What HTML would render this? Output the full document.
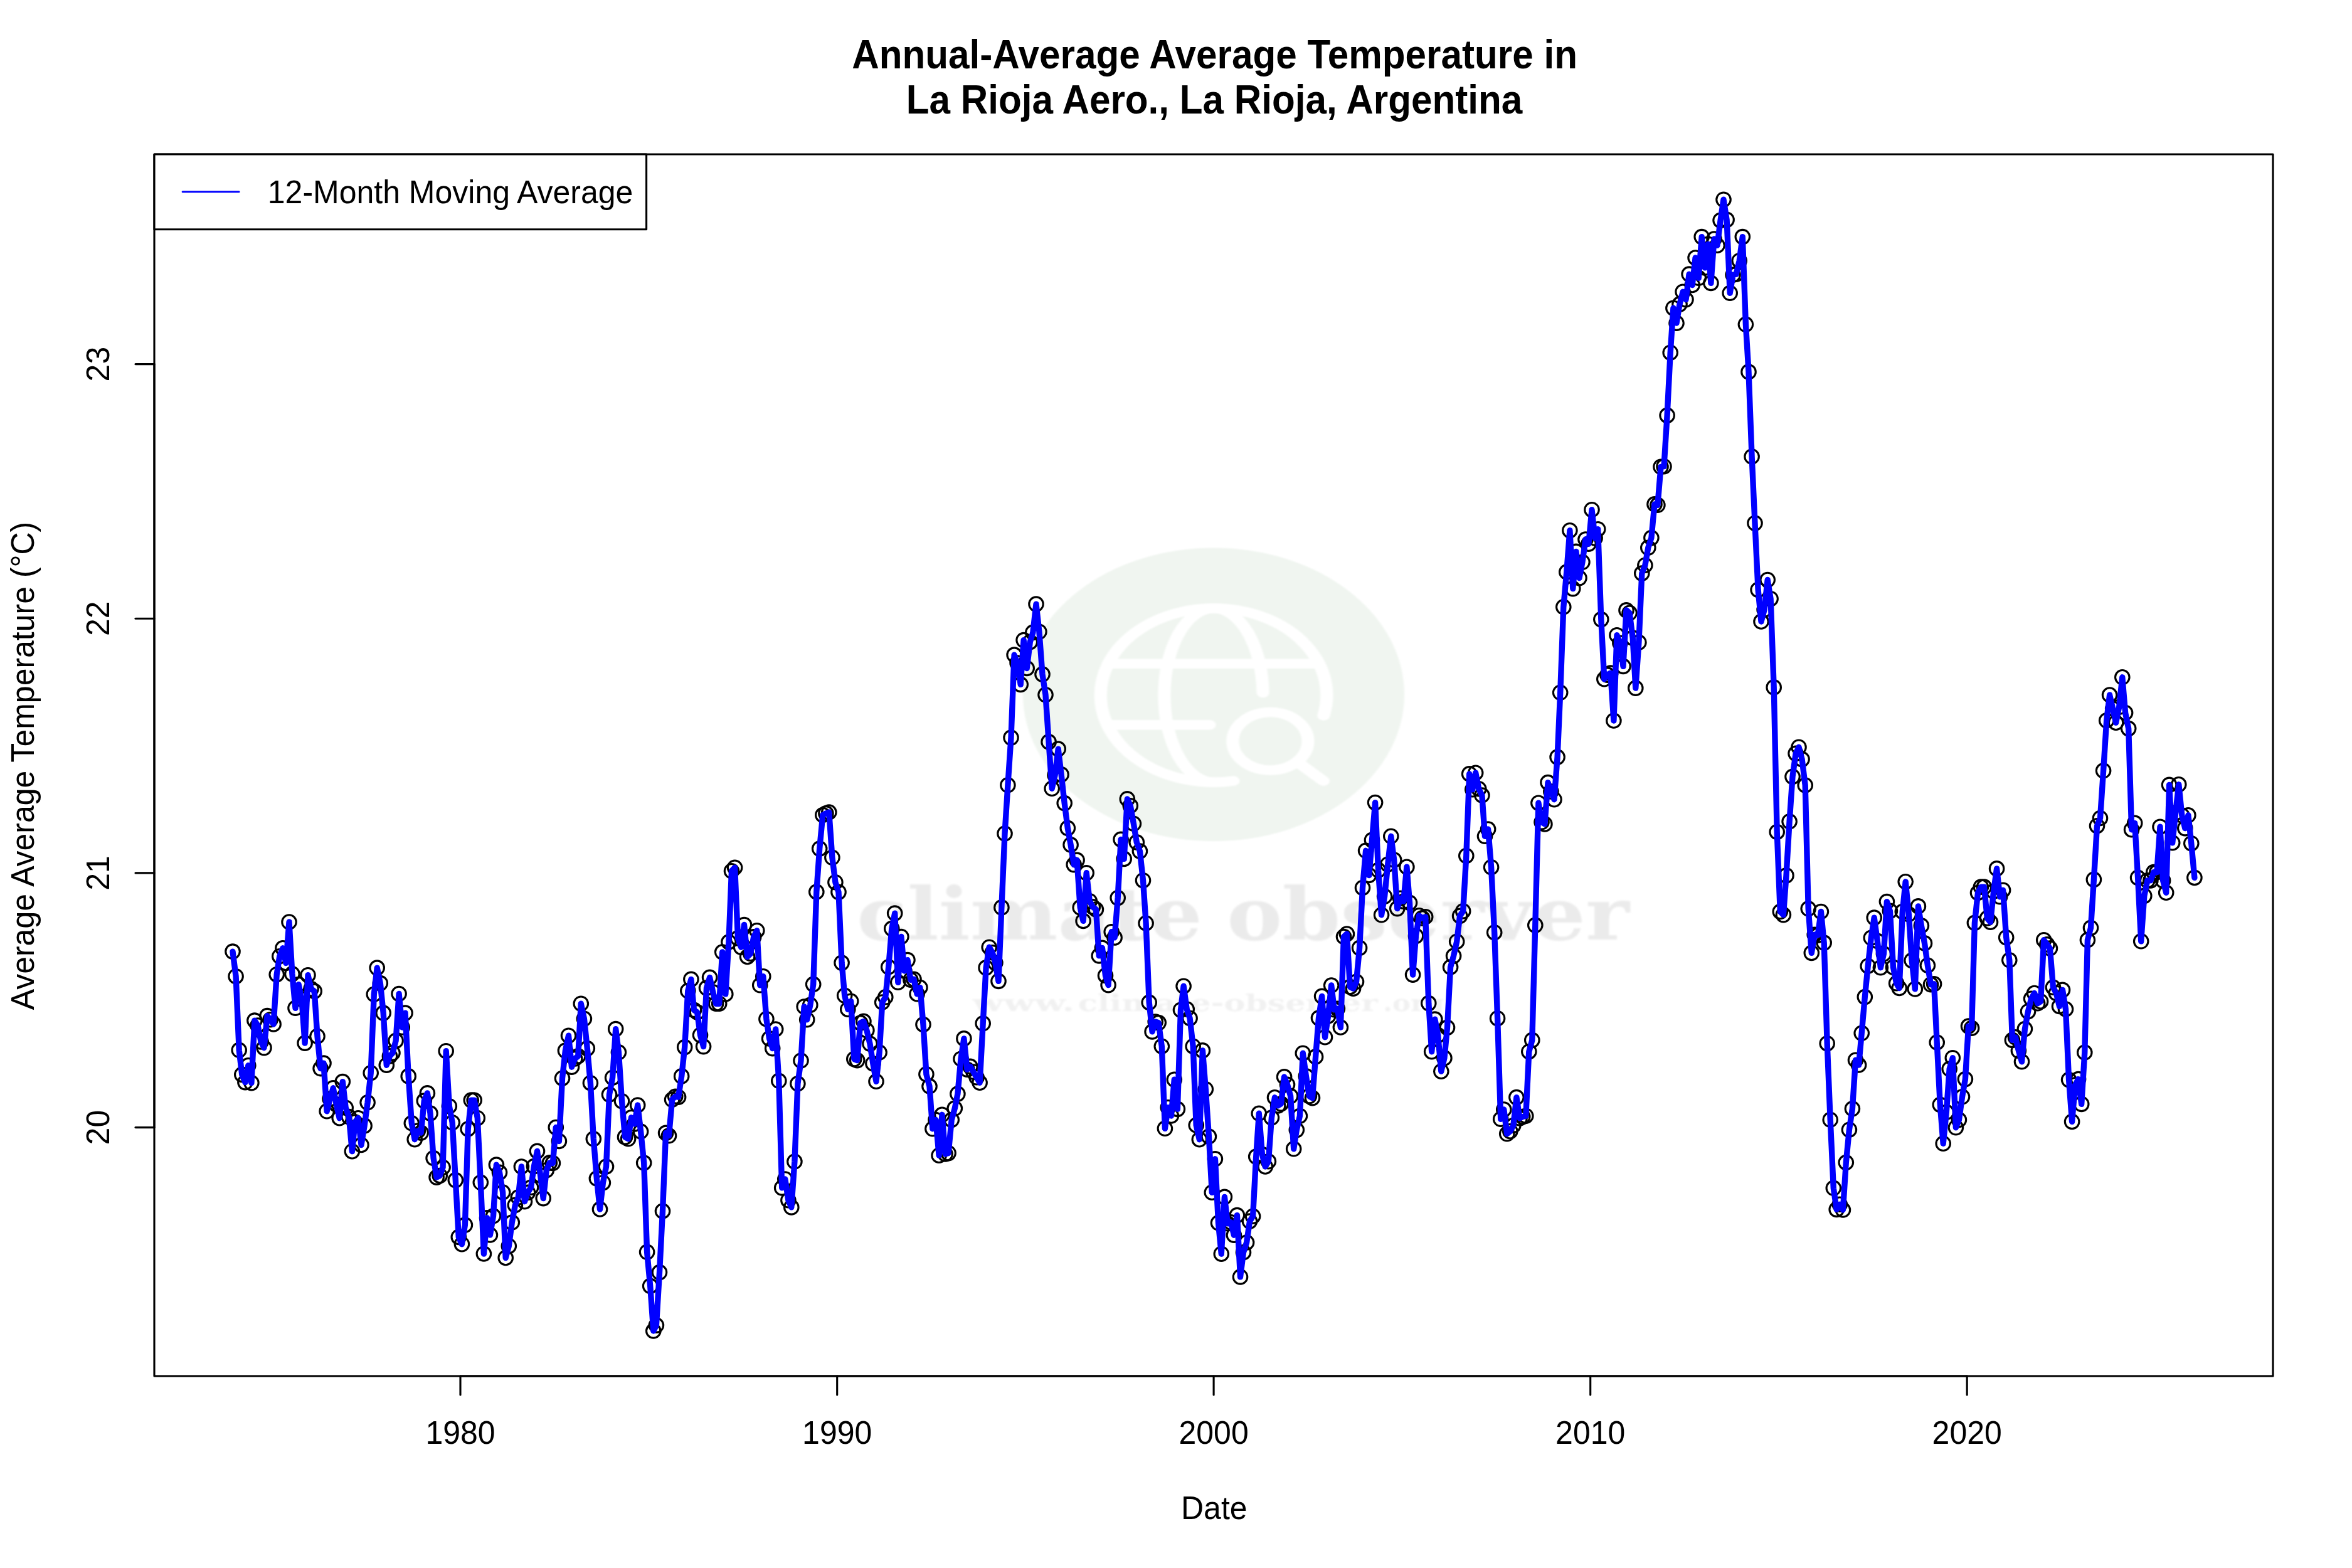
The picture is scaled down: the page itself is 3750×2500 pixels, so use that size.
<!DOCTYPE html>
<html lang="en"><head><meta charset="utf-8"><title>Annual-Average Average Temperature in La Rioja Aero., La Rioja, Argentina</title>
<style>html,body{margin:0;padding:0;background:#fff}body{width:3750px;height:2500px;overflow:hidden}svg{display:block}text{font-family:"Liberation Sans",sans-serif;fill:#000}.wm{font-family:"DejaVu Serif","Liberation Serif",serif;font-weight:bold}</style></head><body>
<svg width="3750" height="2500" viewBox="0 0 3750 2500">
<rect width="3750" height="2500" fill="#fff"/>
<defs><filter id="b1" x="-5%" y="-5%" width="110%" height="110%"><feGaussianBlur stdDeviation="1.1"/></filter><filter id="b2" x="-5%" y="-20%" width="110%" height="140%"><feGaussianBlur stdDeviation="1.6"/></filter></defs>
<g transform="translate(1935,1107.3) scale(1.30,1)" filter="url(#b1)">
<circle r="233.9" fill="#f0f5f0"/>
<g fill="none" stroke="#fff" stroke-width="15.5" stroke-linecap="round" stroke-linejoin="round">
<path d="M134.9,33.6 A138.7,138.7 0 1 0 24.1,137.8"/>
<path d="M-129.3,-49.1 H129.3"/>
<path d="M-130.4,48.4 H-5"/>
<path d="M0,139.9 A60.5,138.7 0 0 1 0,-137.5 A60.5,138.7 0 0 1 60.45,-2.8"/>
<circle cx="69.5" cy="74.5" r="46.2"/>
<path d="M102.2,107.2 L134.6,137.9"/>
</g></g>
<g filter="url(#b2)" style="fill:#ebebeb">
<text class="wm" x="1366" y="1497.5" font-size="116" textLength="551" lengthAdjust="spacingAndGlyphs" style="fill:#ebebeb">climate</text>
<text class="wm" x="1956" y="1497.5" font-size="116" textLength="642" lengthAdjust="spacingAndGlyphs" style="fill:#ebebeb">observer</text>
</g><g filter="url(#b2)">
<text class="wm" x="1550.4" y="1611.7" font-size="37" textLength="163" lengthAdjust="spacingAndGlyphs" style="fill:#f1f1f1">www.</text>
<text class="wm" x="1718.8" y="1611.7" font-size="37" textLength="478" lengthAdjust="spacingAndGlyphs" style="fill:#f1f1f1">climate-observer</text>
<text class="wm" x="2205" y="1611.7" font-size="37" textLength="97" lengthAdjust="spacingAndGlyphs" style="fill:#f1f1f1">.org</text>
</g>
<g fill="none" stroke="#000" stroke-width="3.125">
<circle cx="371.0" cy="1517.1" r="11.25"/>
<circle cx="376.1" cy="1556.7" r="11.25"/>
<circle cx="381.2" cy="1674.3" r="11.25"/>
<circle cx="385.8" cy="1713.4" r="11.25"/>
<circle cx="390.9" cy="1725.6" r="11.25"/>
<circle cx="395.8" cy="1698.8" r="11.25"/>
<circle cx="400.9" cy="1726.6" r="11.25"/>
<circle cx="405.9" cy="1627.1" r="11.25"/>
<circle cx="411.0" cy="1635.0" r="11.25"/>
<circle cx="416.1" cy="1661.0" r="11.25"/>
<circle cx="421.0" cy="1670.6" r="11.25"/>
<circle cx="426.1" cy="1619.6" r="11.25"/>
<circle cx="431.0" cy="1625.7" r="11.25"/>
<circle cx="436.1" cy="1632.9" r="11.25"/>
<circle cx="441.2" cy="1553.7" r="11.25"/>
<circle cx="445.8" cy="1524.7" r="11.25"/>
<circle cx="450.9" cy="1511.8" r="11.25"/>
<circle cx="455.9" cy="1535.5" r="11.25"/>
<circle cx="461.0" cy="1470.0" r="11.25"/>
<circle cx="465.9" cy="1552.9" r="11.25"/>
<circle cx="471.0" cy="1607.3" r="11.25"/>
<circle cx="476.1" cy="1569.6" r="11.25"/>
<circle cx="481.0" cy="1593.0" r="11.25"/>
<circle cx="486.1" cy="1663.1" r="11.25"/>
<circle cx="491.0" cy="1554.7" r="11.25"/>
<circle cx="496.1" cy="1576.5" r="11.25"/>
<circle cx="501.2" cy="1580.4" r="11.25"/>
<circle cx="506.0" cy="1652.2" r="11.25"/>
<circle cx="511.1" cy="1703.6" r="11.25"/>
<circle cx="516.0" cy="1695.1" r="11.25"/>
<circle cx="521.1" cy="1771.8" r="11.25"/>
<circle cx="526.1" cy="1752.0" r="11.25"/>
<circle cx="531.2" cy="1734.8" r="11.25"/>
<circle cx="536.3" cy="1761.0" r="11.25"/>
<circle cx="541.2" cy="1782.7" r="11.25"/>
<circle cx="546.3" cy="1724.6" r="11.25"/>
<circle cx="551.2" cy="1766.3" r="11.25"/>
<circle cx="556.3" cy="1780.6" r="11.25"/>
<circle cx="561.4" cy="1835.7" r="11.25"/>
<circle cx="566.0" cy="1789.0" r="11.25"/>
<circle cx="571.1" cy="1782.7" r="11.25"/>
<circle cx="576.0" cy="1825.5" r="11.25"/>
<circle cx="581.1" cy="1794.9" r="11.25"/>
<circle cx="586.1" cy="1757.8" r="11.25"/>
<circle cx="591.2" cy="1710.7" r="11.25"/>
<circle cx="596.3" cy="1585.3" r="11.25"/>
<circle cx="601.2" cy="1543.1" r="11.25"/>
<circle cx="606.3" cy="1567.6" r="11.25"/>
<circle cx="611.2" cy="1615.1" r="11.25"/>
<circle cx="616.3" cy="1698.2" r="11.25"/>
<circle cx="621.4" cy="1683.9" r="11.25"/>
<circle cx="626.0" cy="1678.8" r="11.25"/>
<circle cx="631.1" cy="1659.4" r="11.25"/>
<circle cx="636.1" cy="1584.5" r="11.25"/>
<circle cx="641.2" cy="1638.0" r="11.25"/>
<circle cx="646.1" cy="1615.1" r="11.25"/>
<circle cx="651.2" cy="1715.9" r="11.25"/>
<circle cx="656.3" cy="1790.8" r="11.25"/>
<circle cx="661.2" cy="1816.7" r="11.25"/>
<circle cx="666.3" cy="1803.0" r="11.25"/>
<circle cx="671.2" cy="1806.1" r="11.25"/>
<circle cx="676.3" cy="1755.1" r="11.25"/>
<circle cx="681.4" cy="1742.9" r="11.25"/>
<circle cx="686.0" cy="1775.1" r="11.25"/>
<circle cx="691.1" cy="1846.5" r="11.25"/>
<circle cx="696.1" cy="1877.1" r="11.25"/>
<circle cx="701.2" cy="1874.5" r="11.25"/>
<circle cx="706.1" cy="1861.2" r="11.25"/>
<circle cx="711.2" cy="1675.7" r="11.25"/>
<circle cx="716.3" cy="1763.7" r="11.25"/>
<circle cx="721.2" cy="1789.8" r="11.25"/>
<circle cx="726.3" cy="1881.6" r="11.25"/>
<circle cx="731.3" cy="1972.4" r="11.25"/>
<circle cx="736.4" cy="1983.7" r="11.25"/>
<circle cx="741.4" cy="1953.1" r="11.25"/>
<circle cx="746.2" cy="1800.0" r="11.25"/>
<circle cx="751.3" cy="1754.1" r="11.25"/>
<circle cx="756.2" cy="1754.1" r="11.25"/>
<circle cx="761.3" cy="1782.7" r="11.25"/>
<circle cx="766.3" cy="1885.3" r="11.25"/>
<circle cx="771.4" cy="1999.0" r="11.25"/>
<circle cx="776.5" cy="1941.8" r="11.25"/>
<circle cx="781.4" cy="1969.0" r="11.25"/>
<circle cx="786.5" cy="1938.8" r="11.25"/>
<circle cx="791.4" cy="1857.1" r="11.25"/>
<circle cx="796.5" cy="1869.4" r="11.25"/>
<circle cx="801.6" cy="1901.0" r="11.25"/>
<circle cx="806.2" cy="2005.5" r="11.25"/>
<circle cx="811.3" cy="1986.7" r="11.25"/>
<circle cx="816.3" cy="1949.0" r="11.25"/>
<circle cx="821.4" cy="1921.4" r="11.25"/>
<circle cx="826.3" cy="1909.0" r="11.25"/>
<circle cx="831.4" cy="1860.0" r="11.25"/>
<circle cx="836.5" cy="1915.7" r="11.25"/>
<circle cx="841.4" cy="1901.4" r="11.25"/>
<circle cx="846.5" cy="1893.3" r="11.25"/>
<circle cx="851.4" cy="1859.6" r="11.25"/>
<circle cx="856.5" cy="1835.4" r="11.25"/>
<circle cx="861.6" cy="1873.9" r="11.25"/>
<circle cx="866.2" cy="1910.6" r="11.25"/>
<circle cx="871.3" cy="1865.7" r="11.25"/>
<circle cx="876.3" cy="1853.9" r="11.25"/>
<circle cx="881.4" cy="1854.5" r="11.25"/>
<circle cx="886.3" cy="1797.5" r="11.25"/>
<circle cx="891.4" cy="1819.5" r="11.25"/>
<circle cx="896.5" cy="1719.2" r="11.25"/>
<circle cx="901.4" cy="1675.1" r="11.25"/>
<circle cx="906.5" cy="1651.2" r="11.25"/>
<circle cx="911.5" cy="1701.2" r="11.25"/>
<circle cx="916.6" cy="1688.0" r="11.25"/>
<circle cx="921.7" cy="1683.9" r="11.25"/>
<circle cx="926.3" cy="1600.2" r="11.25"/>
<circle cx="931.4" cy="1624.3" r="11.25"/>
<circle cx="936.3" cy="1671.6" r="11.25"/>
<circle cx="941.4" cy="1726.7" r="11.25"/>
<circle cx="946.3" cy="1815.8" r="11.25"/>
<circle cx="951.4" cy="1879.0" r="11.25"/>
<circle cx="956.5" cy="1928.0" r="11.25"/>
<circle cx="961.4" cy="1885.7" r="11.25"/>
<circle cx="966.5" cy="1860.0" r="11.25"/>
<circle cx="971.5" cy="1745.1" r="11.25"/>
<circle cx="976.6" cy="1718.2" r="11.25"/>
<circle cx="981.7" cy="1640.6" r="11.25"/>
<circle cx="986.4" cy="1677.8" r="11.25"/>
<circle cx="991.5" cy="1755.7" r="11.25"/>
<circle cx="996.5" cy="1812.9" r="11.25"/>
<circle cx="1001.6" cy="1815.8" r="11.25"/>
<circle cx="1006.5" cy="1781.8" r="11.25"/>
<circle cx="1011.6" cy="1792.0" r="11.25"/>
<circle cx="1016.7" cy="1762.0" r="11.25"/>
<circle cx="1021.6" cy="1804.0" r="11.25"/>
<circle cx="1026.7" cy="1854.0" r="11.25"/>
<circle cx="1031.6" cy="1996.3" r="11.25"/>
<circle cx="1036.7" cy="2050.4" r="11.25"/>
<circle cx="1041.8" cy="2122.0" r="11.25"/>
<circle cx="1046.4" cy="2113.1" r="11.25"/>
<circle cx="1051.5" cy="2028.6" r="11.25"/>
<circle cx="1056.5" cy="1931.0" r="11.25"/>
<circle cx="1061.6" cy="1806.4" r="11.25"/>
<circle cx="1066.5" cy="1810.8" r="11.25"/>
<circle cx="1071.6" cy="1753.3" r="11.25"/>
<circle cx="1076.7" cy="1748.2" r="11.25"/>
<circle cx="1081.6" cy="1749.2" r="11.25"/>
<circle cx="1086.7" cy="1715.9" r="11.25"/>
<circle cx="1091.7" cy="1669.6" r="11.25"/>
<circle cx="1096.8" cy="1579.8" r="11.25"/>
<circle cx="1101.9" cy="1561.4" r="11.25"/>
<circle cx="1106.5" cy="1610.4" r="11.25"/>
<circle cx="1111.6" cy="1613.9" r="11.25"/>
<circle cx="1116.5" cy="1650.2" r="11.25"/>
<circle cx="1121.6" cy="1668.6" r="11.25"/>
<circle cx="1126.5" cy="1575.1" r="11.25"/>
<circle cx="1131.6" cy="1558.4" r="11.25"/>
<circle cx="1136.7" cy="1581.8" r="11.25"/>
<circle cx="1141.6" cy="1600.2" r="11.25"/>
<circle cx="1146.7" cy="1600.2" r="11.25"/>
<circle cx="1151.7" cy="1518.0" r="11.25"/>
<circle cx="1156.8" cy="1584.9" r="11.25"/>
<circle cx="1161.9" cy="1502.0" r="11.25"/>
<circle cx="1166.5" cy="1388.8" r="11.25"/>
<circle cx="1171.6" cy="1383.3" r="11.25"/>
<circle cx="1176.5" cy="1495.9" r="11.25"/>
<circle cx="1181.6" cy="1510.2" r="11.25"/>
<circle cx="1186.5" cy="1474.5" r="11.25"/>
<circle cx="1191.6" cy="1525.5" r="11.25"/>
<circle cx="1196.7" cy="1520.4" r="11.25"/>
<circle cx="1201.7" cy="1493.9" r="11.25"/>
<circle cx="1206.8" cy="1483.7" r="11.25"/>
<circle cx="1211.7" cy="1570.8" r="11.25"/>
<circle cx="1216.8" cy="1556.7" r="11.25"/>
<circle cx="1221.9" cy="1624.7" r="11.25"/>
<circle cx="1226.6" cy="1655.9" r="11.25"/>
<circle cx="1231.7" cy="1671.6" r="11.25"/>
<circle cx="1236.7" cy="1641.0" r="11.25"/>
<circle cx="1241.8" cy="1723.3" r="11.25"/>
<circle cx="1246.7" cy="1893.9" r="11.25"/>
<circle cx="1251.8" cy="1880.0" r="11.25"/>
<circle cx="1256.9" cy="1913.7" r="11.25"/>
<circle cx="1261.8" cy="1924.9" r="11.25"/>
<circle cx="1266.9" cy="1852.0" r="11.25"/>
<circle cx="1271.9" cy="1727.8" r="11.25"/>
<circle cx="1277.0" cy="1691.0" r="11.25"/>
<circle cx="1282.1" cy="1605.0" r="11.25"/>
<circle cx="1286.7" cy="1625.7" r="11.25"/>
<circle cx="1291.8" cy="1602.4" r="11.25"/>
<circle cx="1296.7" cy="1569.4" r="11.25"/>
<circle cx="1301.8" cy="1422.0" r="11.25"/>
<circle cx="1306.7" cy="1353.1" r="11.25"/>
<circle cx="1311.8" cy="1299.5" r="11.25"/>
<circle cx="1316.9" cy="1296.9" r="11.25"/>
<circle cx="1321.8" cy="1295.0" r="11.25"/>
<circle cx="1326.9" cy="1367.3" r="11.25"/>
<circle cx="1331.9" cy="1406.7" r="11.25"/>
<circle cx="1337.0" cy="1422.4" r="11.25"/>
<circle cx="1342.1" cy="1535.1" r="11.25"/>
<circle cx="1346.7" cy="1587.3" r="11.25"/>
<circle cx="1351.8" cy="1609.2" r="11.25"/>
<circle cx="1356.7" cy="1596.3" r="11.25"/>
<circle cx="1361.8" cy="1688.6" r="11.25"/>
<circle cx="1366.7" cy="1690.6" r="11.25"/>
<circle cx="1371.8" cy="1631.0" r="11.25"/>
<circle cx="1376.9" cy="1628.4" r="11.25"/>
<circle cx="1381.9" cy="1642.7" r="11.25"/>
<circle cx="1387.0" cy="1664.1" r="11.25"/>
<circle cx="1391.9" cy="1695.7" r="11.25"/>
<circle cx="1397.0" cy="1724.3" r="11.25"/>
<circle cx="1402.1" cy="1678.0" r="11.25"/>
<circle cx="1406.7" cy="1598.0" r="11.25"/>
<circle cx="1411.8" cy="1589.8" r="11.25"/>
<circle cx="1416.7" cy="1541.8" r="11.25"/>
<circle cx="1421.8" cy="1480.6" r="11.25"/>
<circle cx="1426.7" cy="1456.1" r="11.25"/>
<circle cx="1431.8" cy="1566.3" r="11.25"/>
<circle cx="1436.9" cy="1493.5" r="11.25"/>
<circle cx="1441.9" cy="1548.0" r="11.25"/>
<circle cx="1447.0" cy="1530.6" r="11.25"/>
<circle cx="1451.9" cy="1562.2" r="11.25"/>
<circle cx="1457.0" cy="1561.2" r="11.25"/>
<circle cx="1462.1" cy="1584.7" r="11.25"/>
<circle cx="1466.9" cy="1574.5" r="11.25"/>
<circle cx="1472.0" cy="1633.5" r="11.25"/>
<circle cx="1476.9" cy="1712.7" r="11.25"/>
<circle cx="1482.0" cy="1732.0" r="11.25"/>
<circle cx="1486.9" cy="1799.8" r="11.25"/>
<circle cx="1492.0" cy="1785.5" r="11.25"/>
<circle cx="1497.1" cy="1842.2" r="11.25"/>
<circle cx="1502.0" cy="1777.3" r="11.25"/>
<circle cx="1507.1" cy="1840.0" r="11.25"/>
<circle cx="1512.1" cy="1838.6" r="11.25"/>
<circle cx="1517.2" cy="1785.5" r="11.25"/>
<circle cx="1522.3" cy="1767.1" r="11.25"/>
<circle cx="1526.9" cy="1744.1" r="11.25"/>
<circle cx="1532.0" cy="1688.2" r="11.25"/>
<circle cx="1536.9" cy="1655.9" r="11.25"/>
<circle cx="1542.0" cy="1705.3" r="11.25"/>
<circle cx="1546.9" cy="1700.4" r="11.25"/>
<circle cx="1552.0" cy="1709.0" r="11.25"/>
<circle cx="1557.1" cy="1717.8" r="11.25"/>
<circle cx="1562.1" cy="1726.3" r="11.25"/>
<circle cx="1567.2" cy="1631.8" r="11.25"/>
<circle cx="1572.1" cy="1542.9" r="11.25"/>
<circle cx="1577.2" cy="1510.2" r="11.25"/>
<circle cx="1582.3" cy="1518.8" r="11.25"/>
<circle cx="1586.9" cy="1535.1" r="11.25"/>
<circle cx="1592.0" cy="1564.4" r="11.25"/>
<circle cx="1596.9" cy="1446.9" r="11.25"/>
<circle cx="1602.0" cy="1329.0" r="11.25"/>
<circle cx="1606.9" cy="1251.8" r="11.25"/>
<circle cx="1612.0" cy="1176.1" r="11.25"/>
<circle cx="1617.1" cy="1044.1" r="11.25"/>
<circle cx="1622.1" cy="1057.0" r="11.25"/>
<circle cx="1627.2" cy="1091.4" r="11.25"/>
<circle cx="1632.1" cy="1020.6" r="11.25"/>
<circle cx="1637.2" cy="1065.5" r="11.25"/>
<circle cx="1642.3" cy="1023.7" r="11.25"/>
<circle cx="1646.9" cy="1008.4" r="11.25"/>
<circle cx="1652.0" cy="963.1" r="11.25"/>
<circle cx="1656.9" cy="1007.3" r="11.25"/>
<circle cx="1662.0" cy="1075.1" r="11.25"/>
<circle cx="1667.0" cy="1107.8" r="11.25"/>
<circle cx="1672.1" cy="1182.9" r="11.25"/>
<circle cx="1677.2" cy="1257.3" r="11.25"/>
<circle cx="1682.1" cy="1235.9" r="11.25"/>
<circle cx="1687.2" cy="1194.1" r="11.25"/>
<circle cx="1692.1" cy="1234.9" r="11.25"/>
<circle cx="1697.2" cy="1280.6" r="11.25"/>
<circle cx="1702.3" cy="1320.4" r="11.25"/>
<circle cx="1707.1" cy="1346.9" r="11.25"/>
<circle cx="1712.2" cy="1378.6" r="11.25"/>
<circle cx="1717.1" cy="1371.4" r="11.25"/>
<circle cx="1722.2" cy="1446.9" r="11.25"/>
<circle cx="1727.1" cy="1468.4" r="11.25"/>
<circle cx="1732.2" cy="1391.8" r="11.25"/>
<circle cx="1737.3" cy="1436.7" r="11.25"/>
<circle cx="1742.3" cy="1445.9" r="11.25"/>
<circle cx="1747.4" cy="1450.0" r="11.25"/>
<circle cx="1752.3" cy="1523.9" r="11.25"/>
<circle cx="1757.4" cy="1511.4" r="11.25"/>
<circle cx="1762.5" cy="1555.5" r="11.25"/>
<circle cx="1767.1" cy="1570.6" r="11.25"/>
<circle cx="1772.2" cy="1485.7" r="11.25"/>
<circle cx="1777.1" cy="1494.9" r="11.25"/>
<circle cx="1782.2" cy="1431.6" r="11.25"/>
<circle cx="1787.1" cy="1338.4" r="11.25"/>
<circle cx="1792.2" cy="1369.4" r="11.25"/>
<circle cx="1797.3" cy="1273.9" r="11.25"/>
<circle cx="1802.3" cy="1284.7" r="11.25"/>
<circle cx="1807.4" cy="1313.3" r="11.25"/>
<circle cx="1812.3" cy="1342.9" r="11.25"/>
<circle cx="1817.4" cy="1357.1" r="11.25"/>
<circle cx="1822.5" cy="1403.7" r="11.25"/>
<circle cx="1827.1" cy="1472.0" r="11.25"/>
<circle cx="1832.2" cy="1598.4" r="11.25"/>
<circle cx="1837.1" cy="1644.9" r="11.25"/>
<circle cx="1842.2" cy="1629.0" r="11.25"/>
<circle cx="1847.2" cy="1630.6" r="11.25"/>
<circle cx="1852.3" cy="1668.2" r="11.25"/>
<circle cx="1857.4" cy="1799.3" r="11.25"/>
<circle cx="1862.3" cy="1765.7" r="11.25"/>
<circle cx="1867.4" cy="1779.0" r="11.25"/>
<circle cx="1872.3" cy="1721.2" r="11.25"/>
<circle cx="1877.4" cy="1768.4" r="11.25"/>
<circle cx="1882.5" cy="1610.2" r="11.25"/>
<circle cx="1887.1" cy="1572.2" r="11.25"/>
<circle cx="1892.2" cy="1609.0" r="11.25"/>
<circle cx="1897.1" cy="1623.5" r="11.25"/>
<circle cx="1902.2" cy="1668.2" r="11.25"/>
<circle cx="1907.2" cy="1794.0" r="11.25"/>
<circle cx="1912.3" cy="1816.7" r="11.25"/>
<circle cx="1917.4" cy="1674.9" r="11.25"/>
<circle cx="1922.3" cy="1736.7" r="11.25"/>
<circle cx="1927.4" cy="1812.0" r="11.25"/>
<circle cx="1932.3" cy="1901.2" r="11.25"/>
<circle cx="1937.4" cy="1847.8" r="11.25"/>
<circle cx="1942.5" cy="1949.8" r="11.25"/>
<circle cx="1947.3" cy="1999.2" r="11.25"/>
<circle cx="1952.4" cy="1908.4" r="11.25"/>
<circle cx="1957.3" cy="1950.8" r="11.25"/>
<circle cx="1962.4" cy="1948.8" r="11.25"/>
<circle cx="1967.4" cy="1969.2" r="11.25"/>
<circle cx="1972.4" cy="1937.6" r="11.25"/>
<circle cx="1977.5" cy="2035.9" r="11.25"/>
<circle cx="1982.5" cy="1996.7" r="11.25"/>
<circle cx="1987.6" cy="1981.0" r="11.25"/>
<circle cx="1992.5" cy="1947.1" r="11.25"/>
<circle cx="1997.6" cy="1939.2" r="11.25"/>
<circle cx="2002.7" cy="1844.1" r="11.25"/>
<circle cx="2007.3" cy="1775.3" r="11.25"/>
<circle cx="2012.4" cy="1840.6" r="11.25"/>
<circle cx="2017.3" cy="1860.0" r="11.25"/>
<circle cx="2022.4" cy="1851.8" r="11.25"/>
<circle cx="2027.4" cy="1782.0" r="11.25"/>
<circle cx="2032.5" cy="1749.8" r="11.25"/>
<circle cx="2037.6" cy="1762.9" r="11.25"/>
<circle cx="2042.5" cy="1759.8" r="11.25"/>
<circle cx="2047.6" cy="1716.9" r="11.25"/>
<circle cx="2052.5" cy="1729.2" r="11.25"/>
<circle cx="2057.6" cy="1747.6" r="11.25"/>
<circle cx="2062.7" cy="1831.8" r="11.25"/>
<circle cx="2067.3" cy="1801.6" r="11.25"/>
<circle cx="2072.4" cy="1779.2" r="11.25"/>
<circle cx="2077.3" cy="1679.2" r="11.25"/>
<circle cx="2082.4" cy="1715.9" r="11.25"/>
<circle cx="2087.4" cy="1747.6" r="11.25"/>
<circle cx="2092.5" cy="1750.6" r="11.25"/>
<circle cx="2097.6" cy="1684.9" r="11.25"/>
<circle cx="2102.5" cy="1623.1" r="11.25"/>
<circle cx="2107.6" cy="1588.4" r="11.25"/>
<circle cx="2112.5" cy="1653.7" r="11.25"/>
<circle cx="2117.6" cy="1620.0" r="11.25"/>
<circle cx="2122.7" cy="1571.0" r="11.25"/>
<circle cx="2127.3" cy="1609.8" r="11.25"/>
<circle cx="2132.4" cy="1608.2" r="11.25"/>
<circle cx="2137.4" cy="1638.0" r="11.25"/>
<circle cx="2142.5" cy="1493.5" r="11.25"/>
<circle cx="2147.4" cy="1489.0" r="11.25"/>
<circle cx="2152.5" cy="1573.5" r="11.25"/>
<circle cx="2157.6" cy="1576.1" r="11.25"/>
<circle cx="2162.5" cy="1565.3" r="11.25"/>
<circle cx="2167.6" cy="1511.4" r="11.25"/>
<circle cx="2172.5" cy="1415.5" r="11.25"/>
<circle cx="2177.6" cy="1356.3" r="11.25"/>
<circle cx="2182.7" cy="1395.5" r="11.25"/>
<circle cx="2187.5" cy="1339.4" r="11.25"/>
<circle cx="2192.6" cy="1279.6" r="11.25"/>
<circle cx="2197.5" cy="1387.3" r="11.25"/>
<circle cx="2202.6" cy="1458.8" r="11.25"/>
<circle cx="2207.6" cy="1429.2" r="11.25"/>
<circle cx="2212.7" cy="1378.2" r="11.25"/>
<circle cx="2217.8" cy="1333.3" r="11.25"/>
<circle cx="2222.7" cy="1371.0" r="11.25"/>
<circle cx="2227.8" cy="1448.6" r="11.25"/>
<circle cx="2232.7" cy="1432.2" r="11.25"/>
<circle cx="2237.8" cy="1437.3" r="11.25"/>
<circle cx="2242.9" cy="1382.2" r="11.25"/>
<circle cx="2247.5" cy="1439.4" r="11.25"/>
<circle cx="2252.6" cy="1554.1" r="11.25"/>
<circle cx="2257.5" cy="1492.4" r="11.25"/>
<circle cx="2262.6" cy="1459.8" r="11.25"/>
<circle cx="2267.6" cy="1463.9" r="11.25"/>
<circle cx="2272.7" cy="1461.8" r="11.25"/>
<circle cx="2277.8" cy="1599.6" r="11.25"/>
<circle cx="2282.7" cy="1676.7" r="11.25"/>
<circle cx="2287.8" cy="1625.1" r="11.25"/>
<circle cx="2292.7" cy="1650.6" r="11.25"/>
<circle cx="2297.8" cy="1708.2" r="11.25"/>
<circle cx="2302.9" cy="1686.9" r="11.25"/>
<circle cx="2307.5" cy="1638.4" r="11.25"/>
<circle cx="2312.6" cy="1542.0" r="11.25"/>
<circle cx="2317.6" cy="1524.1" r="11.25"/>
<circle cx="2322.7" cy="1501.2" r="11.25"/>
<circle cx="2327.6" cy="1460.4" r="11.25"/>
<circle cx="2332.7" cy="1452.7" r="11.25"/>
<circle cx="2337.8" cy="1364.5" r="11.25"/>
<circle cx="2342.7" cy="1233.9" r="11.25"/>
<circle cx="2347.8" cy="1258.8" r="11.25"/>
<circle cx="2352.7" cy="1232.2" r="11.25"/>
<circle cx="2357.8" cy="1257.8" r="11.25"/>
<circle cx="2362.9" cy="1268.0" r="11.25"/>
<circle cx="2367.5" cy="1333.3" r="11.25"/>
<circle cx="2372.6" cy="1322.0" r="11.25"/>
<circle cx="2377.6" cy="1382.7" r="11.25"/>
<circle cx="2382.7" cy="1486.7" r="11.25"/>
<circle cx="2387.6" cy="1623.7" r="11.25"/>
<circle cx="2392.7" cy="1784.3" r="11.25"/>
<circle cx="2397.8" cy="1769.0" r="11.25"/>
<circle cx="2402.7" cy="1807.8" r="11.25"/>
<circle cx="2407.8" cy="1803.7" r="11.25"/>
<circle cx="2412.8" cy="1794.5" r="11.25"/>
<circle cx="2417.9" cy="1749.6" r="11.25"/>
<circle cx="2423.0" cy="1782.9" r="11.25"/>
<circle cx="2427.7" cy="1780.6" r="11.25"/>
<circle cx="2432.8" cy="1779.2" r="11.25"/>
<circle cx="2437.8" cy="1676.7" r="11.25"/>
<circle cx="2442.8" cy="1658.4" r="11.25"/>
<circle cx="2447.8" cy="1475.1" r="11.25"/>
<circle cx="2452.9" cy="1280.2" r="11.25"/>
<circle cx="2458.0" cy="1310.8" r="11.25"/>
<circle cx="2462.9" cy="1313.9" r="11.25"/>
<circle cx="2468.0" cy="1247.6" r="11.25"/>
<circle cx="2472.9" cy="1262.0" r="11.25"/>
<circle cx="2478.0" cy="1274.7" r="11.25"/>
<circle cx="2483.1" cy="1207.1" r="11.25"/>
<circle cx="2487.7" cy="1104.3" r="11.25"/>
<circle cx="2492.8" cy="967.8" r="11.25"/>
<circle cx="2497.8" cy="912.0" r="11.25"/>
<circle cx="2502.9" cy="845.7" r="11.25"/>
<circle cx="2507.8" cy="938.6" r="11.25"/>
<circle cx="2512.9" cy="879.4" r="11.25"/>
<circle cx="2518.0" cy="921.6" r="11.25"/>
<circle cx="2522.9" cy="896.3" r="11.25"/>
<circle cx="2528.0" cy="860.0" r="11.25"/>
<circle cx="2532.9" cy="867.1" r="11.25"/>
<circle cx="2538.0" cy="812.7" r="11.25"/>
<circle cx="2543.1" cy="858.0" r="11.25"/>
<circle cx="2547.7" cy="843.7" r="11.25"/>
<circle cx="2552.8" cy="987.6" r="11.25"/>
<circle cx="2557.8" cy="1082.7" r="11.25"/>
<circle cx="2562.9" cy="1076.1" r="11.25"/>
<circle cx="2567.8" cy="1073.1" r="11.25"/>
<circle cx="2572.9" cy="1149.0" r="11.25"/>
<circle cx="2578.0" cy="1012.7" r="11.25"/>
<circle cx="2582.9" cy="1025.3" r="11.25"/>
<circle cx="2588.0" cy="1062.4" r="11.25"/>
<circle cx="2593.0" cy="972.9" r="11.25"/>
<circle cx="2598.1" cy="977.3" r="11.25"/>
<circle cx="2603.2" cy="1017.1" r="11.25"/>
<circle cx="2607.8" cy="1097.1" r="11.25"/>
<circle cx="2612.9" cy="1024.3" r="11.25"/>
<circle cx="2617.8" cy="914.1" r="11.25"/>
<circle cx="2622.9" cy="901.2" r="11.25"/>
<circle cx="2627.8" cy="873.3" r="11.25"/>
<circle cx="2632.9" cy="857.6" r="11.25"/>
<circle cx="2638.0" cy="803.9" r="11.25"/>
<circle cx="2642.9" cy="805.3" r="11.25"/>
<circle cx="2648.0" cy="744.3" r="11.25"/>
<circle cx="2653.0" cy="743.7" r="11.25"/>
<circle cx="2658.1" cy="662.4" r="11.25"/>
<circle cx="2663.2" cy="562.2" r="11.25"/>
<circle cx="2667.9" cy="491.2" r="11.25"/>
<circle cx="2673.0" cy="515.1" r="11.25"/>
<circle cx="2678.0" cy="485.1" r="11.25"/>
<circle cx="2683.1" cy="465.3" r="11.25"/>
<circle cx="2688.0" cy="477.6" r="11.25"/>
<circle cx="2693.1" cy="437.1" r="11.25"/>
<circle cx="2698.2" cy="454.5" r="11.25"/>
<circle cx="2703.1" cy="411.0" r="11.25"/>
<circle cx="2708.2" cy="443.3" r="11.25"/>
<circle cx="2713.2" cy="377.6" r="11.25"/>
<circle cx="2718.2" cy="426.9" r="11.25"/>
<circle cx="2723.3" cy="389.2" r="11.25"/>
<circle cx="2727.9" cy="451.4" r="11.25"/>
<circle cx="2733.0" cy="381.0" r="11.25"/>
<circle cx="2738.0" cy="391.2" r="11.25"/>
<circle cx="2743.1" cy="351.4" r="11.25"/>
<circle cx="2748.0" cy="318.2" r="11.25"/>
<circle cx="2753.1" cy="350.4" r="11.25"/>
<circle cx="2758.2" cy="467.3" r="11.25"/>
<circle cx="2763.1" cy="438.2" r="11.25"/>
<circle cx="2768.2" cy="437.1" r="11.25"/>
<circle cx="2773.2" cy="415.7" r="11.25"/>
<circle cx="2778.3" cy="377.6" r="11.25"/>
<circle cx="2783.4" cy="517.3" r="11.25"/>
<circle cx="2788.0" cy="592.9" r="11.25"/>
<circle cx="2793.1" cy="728.0" r="11.25"/>
<circle cx="2798.0" cy="834.1" r="11.25"/>
<circle cx="2803.1" cy="940.4" r="11.25"/>
<circle cx="2808.0" cy="991.0" r="11.25"/>
<circle cx="2813.1" cy="972.0" r="11.25"/>
<circle cx="2818.2" cy="924.5" r="11.25"/>
<circle cx="2823.1" cy="954.7" r="11.25"/>
<circle cx="2828.2" cy="1095.9" r="11.25"/>
<circle cx="2833.2" cy="1326.5" r="11.25"/>
<circle cx="2838.3" cy="1453.5" r="11.25"/>
<circle cx="2843.4" cy="1458.6" r="11.25"/>
<circle cx="2848.0" cy="1395.9" r="11.25"/>
<circle cx="2853.1" cy="1309.8" r="11.25"/>
<circle cx="2858.0" cy="1238.4" r="11.25"/>
<circle cx="2863.1" cy="1201.4" r="11.25"/>
<circle cx="2868.0" cy="1191.2" r="11.25"/>
<circle cx="2873.1" cy="1210.6" r="11.25"/>
<circle cx="2878.2" cy="1252.0" r="11.25"/>
<circle cx="2883.2" cy="1448.8" r="11.25"/>
<circle cx="2888.3" cy="1519.4" r="11.25"/>
<circle cx="2893.2" cy="1490.2" r="11.25"/>
<circle cx="2898.3" cy="1491.2" r="11.25"/>
<circle cx="2903.4" cy="1453.5" r="11.25"/>
<circle cx="2908.2" cy="1503.1" r="11.25"/>
<circle cx="2913.2" cy="1663.7" r="11.25"/>
<circle cx="2918.2" cy="1785.3" r="11.25"/>
<circle cx="2923.3" cy="1894.3" r="11.25"/>
<circle cx="2928.2" cy="1928.4" r="11.25"/>
<circle cx="2933.3" cy="1920.2" r="11.25"/>
<circle cx="2938.4" cy="1929.0" r="11.25"/>
<circle cx="2943.3" cy="1853.5" r="11.25"/>
<circle cx="2948.4" cy="1801.2" r="11.25"/>
<circle cx="2953.4" cy="1767.8" r="11.25"/>
<circle cx="2958.5" cy="1690.2" r="11.25"/>
<circle cx="2963.6" cy="1698.0" r="11.25"/>
<circle cx="2968.2" cy="1647.3" r="11.25"/>
<circle cx="2973.3" cy="1589.6" r="11.25"/>
<circle cx="2978.2" cy="1540.2" r="11.25"/>
<circle cx="2983.3" cy="1495.3" r="11.25"/>
<circle cx="2988.2" cy="1463.1" r="11.25"/>
<circle cx="2993.3" cy="1500.4" r="11.25"/>
<circle cx="2998.4" cy="1542.7" r="11.25"/>
<circle cx="3003.4" cy="1520.8" r="11.25"/>
<circle cx="3008.4" cy="1437.6" r="11.25"/>
<circle cx="3013.4" cy="1452.4" r="11.25"/>
<circle cx="3018.5" cy="1542.2" r="11.25"/>
<circle cx="3023.6" cy="1567.8" r="11.25"/>
<circle cx="3028.2" cy="1575.5" r="11.25"/>
<circle cx="3033.3" cy="1453.5" r="11.25"/>
<circle cx="3038.2" cy="1405.8" r="11.25"/>
<circle cx="3043.3" cy="1457.6" r="11.25"/>
<circle cx="3048.2" cy="1531.4" r="11.25"/>
<circle cx="3053.3" cy="1576.9" r="11.25"/>
<circle cx="3058.4" cy="1444.9" r="11.25"/>
<circle cx="3063.4" cy="1475.9" r="11.25"/>
<circle cx="3068.5" cy="1503.9" r="11.25"/>
<circle cx="3073.4" cy="1539.2" r="11.25"/>
<circle cx="3078.5" cy="1569.8" r="11.25"/>
<circle cx="3083.6" cy="1568.8" r="11.25"/>
<circle cx="3088.2" cy="1662.0" r="11.25"/>
<circle cx="3093.3" cy="1761.4" r="11.25"/>
<circle cx="3098.2" cy="1823.3" r="11.25"/>
<circle cx="3103.3" cy="1773.3" r="11.25"/>
<circle cx="3108.2" cy="1704.3" r="11.25"/>
<circle cx="3113.3" cy="1686.7" r="11.25"/>
<circle cx="3118.4" cy="1797.8" r="11.25"/>
<circle cx="3123.4" cy="1785.5" r="11.25"/>
<circle cx="3128.5" cy="1748.8" r="11.25"/>
<circle cx="3133.4" cy="1720.6" r="11.25"/>
<circle cx="3138.5" cy="1636.1" r="11.25"/>
<circle cx="3143.6" cy="1639.2" r="11.25"/>
<circle cx="3148.4" cy="1471.4" r="11.25"/>
<circle cx="3153.5" cy="1423.5" r="11.25"/>
<circle cx="3158.4" cy="1414.1" r="11.25"/>
<circle cx="3163.5" cy="1414.1" r="11.25"/>
<circle cx="3168.4" cy="1464.0" r="11.25"/>
<circle cx="3173.5" cy="1470.2" r="11.25"/>
<circle cx="3178.6" cy="1421.2" r="11.25"/>
<circle cx="3183.6" cy="1384.9" r="11.25"/>
<circle cx="3188.6" cy="1429.8" r="11.25"/>
<circle cx="3193.6" cy="1419.2" r="11.25"/>
<circle cx="3198.7" cy="1494.7" r="11.25"/>
<circle cx="3203.8" cy="1530.8" r="11.25"/>
<circle cx="3208.4" cy="1658.4" r="11.25"/>
<circle cx="3213.5" cy="1653.9" r="11.25"/>
<circle cx="3218.4" cy="1675.3" r="11.25"/>
<circle cx="3223.5" cy="1692.7" r="11.25"/>
<circle cx="3228.4" cy="1640.6" r="11.25"/>
<circle cx="3233.5" cy="1612.7" r="11.25"/>
<circle cx="3238.6" cy="1592.2" r="11.25"/>
<circle cx="3243.6" cy="1583.5" r="11.25"/>
<circle cx="3248.7" cy="1599.8" r="11.25"/>
<circle cx="3253.6" cy="1596.7" r="11.25"/>
<circle cx="3258.7" cy="1498.8" r="11.25"/>
<circle cx="3263.8" cy="1505.9" r="11.25"/>
<circle cx="3268.4" cy="1512.0" r="11.25"/>
<circle cx="3273.5" cy="1574.3" r="11.25"/>
<circle cx="3278.4" cy="1583.5" r="11.25"/>
<circle cx="3283.5" cy="1604.5" r="11.25"/>
<circle cx="3288.5" cy="1578.4" r="11.25"/>
<circle cx="3293.5" cy="1609.0" r="11.25"/>
<circle cx="3298.6" cy="1721.6" r="11.25"/>
<circle cx="3303.6" cy="1788.4" r="11.25"/>
<circle cx="3308.7" cy="1729.8" r="11.25"/>
<circle cx="3313.6" cy="1720.6" r="11.25"/>
<circle cx="3318.7" cy="1760.4" r="11.25"/>
<circle cx="3323.8" cy="1678.0" r="11.25"/>
<circle cx="3328.4" cy="1498.8" r="11.25"/>
<circle cx="3333.5" cy="1479.4" r="11.25"/>
<circle cx="3338.4" cy="1402.4" r="11.25"/>
<circle cx="3343.5" cy="1316.7" r="11.25"/>
<circle cx="3348.5" cy="1304.5" r="11.25"/>
<circle cx="3353.6" cy="1228.8" r="11.25"/>
<circle cx="3358.7" cy="1148.8" r="11.25"/>
<circle cx="3363.6" cy="1108.0" r="11.25"/>
<circle cx="3368.7" cy="1130.0" r="11.25"/>
<circle cx="3373.6" cy="1152.2" r="11.25"/>
<circle cx="3378.7" cy="1127.3" r="11.25"/>
<circle cx="3383.8" cy="1079.8" r="11.25"/>
<circle cx="3388.6" cy="1136.5" r="11.25"/>
<circle cx="3393.7" cy="1161.6" r="11.25"/>
<circle cx="3398.6" cy="1322.7" r="11.25"/>
<circle cx="3403.7" cy="1312.4" r="11.25"/>
<circle cx="3408.6" cy="1399.4" r="11.25"/>
<circle cx="3413.7" cy="1500.8" r="11.25"/>
<circle cx="3418.8" cy="1428.4" r="11.25"/>
<circle cx="3423.8" cy="1403.9" r="11.25"/>
<circle cx="3428.9" cy="1403.9" r="11.25"/>
<circle cx="3433.8" cy="1390.6" r="11.25"/>
<circle cx="3438.9" cy="1390.6" r="11.25"/>
<circle cx="3444.0" cy="1318.2" r="11.25"/>
<circle cx="3448.6" cy="1403.9" r="11.25"/>
<circle cx="3453.7" cy="1423.3" r="11.25"/>
<circle cx="3458.6" cy="1251.4" r="11.25"/>
<circle cx="3463.7" cy="1343.7" r="11.25"/>
<circle cx="3468.7" cy="1296.0" r="11.25"/>
<circle cx="3473.8" cy="1250.8" r="11.25"/>
<circle cx="3478.8" cy="1300.0" r="11.25"/>
<circle cx="3483.8" cy="1320.6" r="11.25"/>
<circle cx="3488.9" cy="1299.8" r="11.25"/>
<circle cx="3493.8" cy="1344.7" r="11.25"/>
<circle cx="3498.9" cy="1399.4" r="11.25"/>
</g>
<path d="M371.0,1517.1 L376.1,1556.7 L381.2,1674.3 L385.8,1713.4 L390.9,1725.6 L395.8,1698.8 L400.9,1726.6 L405.9,1627.1 L411.0,1635.0 L416.1,1661.0 L421.0,1670.6 L426.1,1619.6 L431.0,1625.7 L436.1,1632.9 L441.2,1553.7 L445.8,1524.7 L450.9,1511.8 L455.9,1535.5 L461.0,1470.0 L465.9,1552.9 L471.0,1607.3 L476.1,1569.6 L481.0,1593.0 L486.1,1663.1 L491.0,1554.7 L496.1,1576.5 L501.2,1580.4 L506.0,1652.2 L511.1,1703.6 L516.0,1695.1 L521.1,1771.8 L526.1,1752.0 L531.2,1734.8 L536.3,1761.0 L541.2,1782.7 L546.3,1724.6 L551.2,1766.3 L556.3,1780.6 L561.4,1835.7 L566.0,1789.0 L571.1,1782.7 L576.0,1825.5 L581.1,1794.9 L586.1,1757.8 L591.2,1710.7 L596.3,1585.3 L601.2,1543.1 L606.3,1567.6 L611.2,1615.1 L616.3,1698.2 L621.4,1683.9 L626.0,1678.8 L631.1,1659.4 L636.1,1584.5 L641.2,1638.0 L646.1,1615.1 L651.2,1715.9 L656.3,1790.8 L661.2,1816.7 L666.3,1803.0 L671.2,1806.1 L676.3,1755.1 L681.4,1742.9 L686.0,1775.1 L691.1,1846.5 L696.1,1877.1 L701.2,1874.5 L706.1,1861.2 L711.2,1675.7 L716.3,1763.7 L721.2,1789.8 L726.3,1881.6 L731.3,1972.4 L736.4,1983.7 L741.4,1953.1 L746.2,1800.0 L751.3,1754.1 L756.2,1754.1 L761.3,1782.7 L766.3,1885.3 L771.4,1999.0 L776.5,1941.8 L781.4,1969.0 L786.5,1938.8 L791.4,1857.1 L796.5,1869.4 L801.6,1901.0 L806.2,2005.5 L811.3,1986.7 L816.3,1949.0 L821.4,1921.4 L826.3,1909.0 L831.4,1860.0 L836.5,1915.7 L841.4,1901.4 L846.5,1893.3 L851.4,1859.6 L856.5,1835.4 L861.6,1873.9 L866.2,1910.6 L871.3,1865.7 L876.3,1853.9 L881.4,1854.5 L886.3,1797.5 L891.4,1819.5 L896.5,1719.2 L901.4,1675.1 L906.5,1651.2 L911.5,1701.2 L916.6,1688.0 L921.7,1683.9 L926.3,1600.2 L931.4,1624.3 L936.3,1671.6 L941.4,1726.7 L946.3,1815.8 L951.4,1879.0 L956.5,1928.0 L961.4,1885.7 L966.5,1860.0 L971.5,1745.1 L976.6,1718.2 L981.7,1640.6 L986.4,1677.8 L991.5,1755.7 L996.5,1812.9 L1001.6,1815.8 L1006.5,1781.8 L1011.6,1792.0 L1016.7,1762.0 L1021.6,1804.0 L1026.7,1854.0 L1031.6,1996.3 L1036.7,2050.4 L1041.8,2122.0 L1046.4,2113.1 L1051.5,2028.6 L1056.5,1931.0 L1061.6,1806.4 L1066.5,1810.8 L1071.6,1753.3 L1076.7,1748.2 L1081.6,1749.2 L1086.7,1715.9 L1091.7,1669.6 L1096.8,1579.8 L1101.9,1561.4 L1106.5,1610.4 L1111.6,1613.9 L1116.5,1650.2 L1121.6,1668.6 L1126.5,1575.1 L1131.6,1558.4 L1136.7,1581.8 L1141.6,1600.2 L1146.7,1600.2 L1151.7,1518.0 L1156.8,1584.9 L1161.9,1502.0 L1166.5,1388.8 L1171.6,1383.3 L1176.5,1495.9 L1181.6,1510.2 L1186.5,1474.5 L1191.6,1525.5 L1196.7,1520.4 L1201.7,1493.9 L1206.8,1483.7 L1211.7,1570.8 L1216.8,1556.7 L1221.9,1624.7 L1226.6,1655.9 L1231.7,1671.6 L1236.7,1641.0 L1241.8,1723.3 L1246.7,1893.9 L1251.8,1880.0 L1256.9,1913.7 L1261.8,1924.9 L1266.9,1852.0 L1271.9,1727.8 L1277.0,1691.0 L1282.1,1605.0 L1286.7,1625.7 L1291.8,1602.4 L1296.7,1569.4 L1301.8,1422.0 L1306.7,1353.1 L1311.8,1299.5 L1316.9,1296.9 L1321.8,1295.0 L1326.9,1367.3 L1331.9,1406.7 L1337.0,1422.4 L1342.1,1535.1 L1346.7,1587.3 L1351.8,1609.2 L1356.7,1596.3 L1361.8,1688.6 L1366.7,1690.6 L1371.8,1631.0 L1376.9,1628.4 L1381.9,1642.7 L1387.0,1664.1 L1391.9,1695.7 L1397.0,1724.3 L1402.1,1678.0 L1406.7,1598.0 L1411.8,1589.8 L1416.7,1541.8 L1421.8,1480.6 L1426.7,1456.1 L1431.8,1566.3 L1436.9,1493.5 L1441.9,1548.0 L1447.0,1530.6 L1451.9,1562.2 L1457.0,1561.2 L1462.1,1584.7 L1466.9,1574.5 L1472.0,1633.5 L1476.9,1712.7 L1482.0,1732.0 L1486.9,1799.8 L1492.0,1785.5 L1497.1,1842.2 L1502.0,1777.3 L1507.1,1840.0 L1512.1,1838.6 L1517.2,1785.5 L1522.3,1767.1 L1526.9,1744.1 L1532.0,1688.2 L1536.9,1655.9 L1542.0,1705.3 L1546.9,1700.4 L1552.0,1709.0 L1557.1,1717.8 L1562.1,1726.3 L1567.2,1631.8 L1572.1,1542.9 L1577.2,1510.2 L1582.3,1518.8 L1586.9,1535.1 L1592.0,1564.4 L1596.9,1446.9 L1602.0,1329.0 L1606.9,1251.8 L1612.0,1176.1 L1617.1,1044.1 L1622.1,1057.0 L1627.2,1091.4 L1632.1,1020.6 L1637.2,1065.5 L1642.3,1023.7 L1646.9,1008.4 L1652.0,963.1 L1656.9,1007.3 L1662.0,1075.1 L1667.0,1107.8 L1672.1,1182.9 L1677.2,1257.3 L1682.1,1235.9 L1687.2,1194.1 L1692.1,1234.9 L1697.2,1280.6 L1702.3,1320.4 L1707.1,1346.9 L1712.2,1378.6 L1717.1,1371.4 L1722.2,1446.9 L1727.1,1468.4 L1732.2,1391.8 L1737.3,1436.7 L1742.3,1445.9 L1747.4,1450.0 L1752.3,1523.9 L1757.4,1511.4 L1762.5,1555.5 L1767.1,1570.6 L1772.2,1485.7 L1777.1,1494.9 L1782.2,1431.6 L1787.1,1338.4 L1792.2,1369.4 L1797.3,1273.9 L1802.3,1284.7 L1807.4,1313.3 L1812.3,1342.9 L1817.4,1357.1 L1822.5,1403.7 L1827.1,1472.0 L1832.2,1598.4 L1837.1,1644.9 L1842.2,1629.0 L1847.2,1630.6 L1852.3,1668.2 L1857.4,1799.3 L1862.3,1765.7 L1867.4,1779.0 L1872.3,1721.2 L1877.4,1768.4 L1882.5,1610.2 L1887.1,1572.2 L1892.2,1609.0 L1897.1,1623.5 L1902.2,1668.2 L1907.2,1794.0 L1912.3,1816.7 L1917.4,1674.9 L1922.3,1736.7 L1927.4,1812.0 L1932.3,1901.2 L1937.4,1847.8 L1942.5,1949.8 L1947.3,1999.2 L1952.4,1908.4 L1957.3,1950.8 L1962.4,1948.8 L1967.4,1969.2 L1972.4,1937.6 L1977.5,2035.9 L1982.5,1996.7 L1987.6,1981.0 L1992.5,1947.1 L1997.6,1939.2 L2002.7,1844.1 L2007.3,1775.3 L2012.4,1840.6 L2017.3,1860.0 L2022.4,1851.8 L2027.4,1782.0 L2032.5,1749.8 L2037.6,1762.9 L2042.5,1759.8 L2047.6,1716.9 L2052.5,1729.2 L2057.6,1747.6 L2062.7,1831.8 L2067.3,1801.6 L2072.4,1779.2 L2077.3,1679.2 L2082.4,1715.9 L2087.4,1747.6 L2092.5,1750.6 L2097.6,1684.9 L2102.5,1623.1 L2107.6,1588.4 L2112.5,1653.7 L2117.6,1620.0 L2122.7,1571.0 L2127.3,1609.8 L2132.4,1608.2 L2137.4,1638.0 L2142.5,1493.5 L2147.4,1489.0 L2152.5,1573.5 L2157.6,1576.1 L2162.5,1565.3 L2167.6,1511.4 L2172.5,1415.5 L2177.6,1356.3 L2182.7,1395.5 L2187.5,1339.4 L2192.6,1279.6 L2197.5,1387.3 L2202.6,1458.8 L2207.6,1429.2 L2212.7,1378.2 L2217.8,1333.3 L2222.7,1371.0 L2227.8,1448.6 L2232.7,1432.2 L2237.8,1437.3 L2242.9,1382.2 L2247.5,1439.4 L2252.6,1554.1 L2257.5,1492.4 L2262.6,1459.8 L2267.6,1463.9 L2272.7,1461.8 L2277.8,1599.6 L2282.7,1676.7 L2287.8,1625.1 L2292.7,1650.6 L2297.8,1708.2 L2302.9,1686.9 L2307.5,1638.4 L2312.6,1542.0 L2317.6,1524.1 L2322.7,1501.2 L2327.6,1460.4 L2332.7,1452.7 L2337.8,1364.5 L2342.7,1233.9 L2347.8,1258.8 L2352.7,1232.2 L2357.8,1257.8 L2362.9,1268.0 L2367.5,1333.3 L2372.6,1322.0 L2377.6,1382.7 L2382.7,1486.7 L2387.6,1623.7 L2392.7,1784.3 L2397.8,1769.0 L2402.7,1807.8 L2407.8,1803.7 L2412.8,1794.5 L2417.9,1749.6 L2423.0,1782.9 L2427.7,1780.6 L2432.8,1779.2 L2437.8,1676.7 L2442.8,1658.4 L2447.8,1475.1 L2452.9,1280.2 L2458.0,1310.8 L2462.9,1313.9 L2468.0,1247.6 L2472.9,1262.0 L2478.0,1274.7 L2483.1,1207.1 L2487.7,1104.3 L2492.8,967.8 L2497.8,912.0 L2502.9,845.7 L2507.8,938.6 L2512.9,879.4 L2518.0,921.6 L2522.9,896.3 L2528.0,860.0 L2532.9,867.1 L2538.0,812.7 L2543.1,858.0 L2547.7,843.7 L2552.8,987.6 L2557.8,1082.7 L2562.9,1076.1 L2567.8,1073.1 L2572.9,1149.0 L2578.0,1012.7 L2582.9,1025.3 L2588.0,1062.4 L2593.0,972.9 L2598.1,977.3 L2603.2,1017.1 L2607.8,1097.1 L2612.9,1024.3 L2617.8,914.1 L2622.9,901.2 L2627.8,873.3 L2632.9,857.6 L2638.0,803.9 L2642.9,805.3 L2648.0,744.3 L2653.0,743.7 L2658.1,662.4 L2663.2,562.2 L2667.9,491.2 L2673.0,515.1 L2678.0,485.1 L2683.1,465.3 L2688.0,477.6 L2693.1,437.1 L2698.2,454.5 L2703.1,411.0 L2708.2,443.3 L2713.2,377.6 L2718.2,426.9 L2723.3,389.2 L2727.9,451.4 L2733.0,381.0 L2738.0,391.2 L2743.1,351.4 L2748.0,318.2 L2753.1,350.4 L2758.2,467.3 L2763.1,438.2 L2768.2,437.1 L2773.2,415.7 L2778.3,377.6 L2783.4,517.3 L2788.0,592.9 L2793.1,728.0 L2798.0,834.1 L2803.1,940.4 L2808.0,991.0 L2813.1,972.0 L2818.2,924.5 L2823.1,954.7 L2828.2,1095.9 L2833.2,1326.5 L2838.3,1453.5 L2843.4,1458.6 L2848.0,1395.9 L2853.1,1309.8 L2858.0,1238.4 L2863.1,1201.4 L2868.0,1191.2 L2873.1,1210.6 L2878.2,1252.0 L2883.2,1448.8 L2888.3,1519.4 L2893.2,1490.2 L2898.3,1491.2 L2903.4,1453.5 L2908.2,1503.1 L2913.2,1663.7 L2918.2,1785.3 L2923.3,1894.3 L2928.2,1928.4 L2933.3,1920.2 L2938.4,1929.0 L2943.3,1853.5 L2948.4,1801.2 L2953.4,1767.8 L2958.5,1690.2 L2963.6,1698.0 L2968.2,1647.3 L2973.3,1589.6 L2978.2,1540.2 L2983.3,1495.3 L2988.2,1463.1 L2993.3,1500.4 L2998.4,1542.7 L3003.4,1520.8 L3008.4,1437.6 L3013.4,1452.4 L3018.5,1542.2 L3023.6,1567.8 L3028.2,1575.5 L3033.3,1453.5 L3038.2,1405.8 L3043.3,1457.6 L3048.2,1531.4 L3053.3,1576.9 L3058.4,1444.9 L3063.4,1475.9 L3068.5,1503.9 L3073.4,1539.2 L3078.5,1569.8 L3083.6,1568.8 L3088.2,1662.0 L3093.3,1761.4 L3098.2,1823.3 L3103.3,1773.3 L3108.2,1704.3 L3113.3,1686.7 L3118.4,1797.8 L3123.4,1785.5 L3128.5,1748.8 L3133.4,1720.6 L3138.5,1636.1 L3143.6,1639.2 L3148.4,1471.4 L3153.5,1423.5 L3158.4,1414.1 L3163.5,1414.1 L3168.4,1464.0 L3173.5,1470.2 L3178.6,1421.2 L3183.6,1384.9 L3188.6,1429.8 L3193.6,1419.2 L3198.7,1494.7 L3203.8,1530.8 L3208.4,1658.4 L3213.5,1653.9 L3218.4,1675.3 L3223.5,1692.7 L3228.4,1640.6 L3233.5,1612.7 L3238.6,1592.2 L3243.6,1583.5 L3248.7,1599.8 L3253.6,1596.7 L3258.7,1498.8 L3263.8,1505.9 L3268.4,1512.0 L3273.5,1574.3 L3278.4,1583.5 L3283.5,1604.5 L3288.5,1578.4 L3293.5,1609.0 L3298.6,1721.6 L3303.6,1788.4 L3308.7,1729.8 L3313.6,1720.6 L3318.7,1760.4 L3323.8,1678.0 L3328.4,1498.8 L3333.5,1479.4 L3338.4,1402.4 L3343.5,1316.7 L3348.5,1304.5 L3353.6,1228.8 L3358.7,1148.8 L3363.6,1108.0 L3368.7,1130.0 L3373.6,1152.2 L3378.7,1127.3 L3383.8,1079.8 L3388.6,1136.5 L3393.7,1161.6 L3398.6,1322.7 L3403.7,1312.4 L3408.6,1399.4 L3413.7,1500.8 L3418.8,1428.4 L3423.8,1403.9 L3428.9,1403.9 L3433.8,1390.6 L3438.9,1390.6 L3444.0,1318.2 L3448.6,1403.9 L3453.7,1423.3 L3458.6,1251.4 L3463.7,1343.7 L3468.7,1296.0 L3473.8,1250.8 L3478.8,1300.0 L3483.8,1320.6 L3488.9,1299.8 L3493.8,1344.7 L3498.9,1399.4" fill="none" stroke="#0000ff" stroke-width="9.375" stroke-linejoin="round" stroke-linecap="round"/>
<g fill="none" stroke="#000" stroke-width="3.125" stroke-linecap="round" stroke-linejoin="round">
<rect x="246" y="246" width="3378" height="1948"/>
<path d="M734.0,2194 H3136.2"/>
<path d="M734.0,2194 v30"/>
<path d="M1334.7,2194 v30"/>
<path d="M1935.1,2194 v30"/>
<path d="M2535.7,2194 v30"/>
<path d="M3136.2,2194 v30"/>
<path d="M246,1797.6 V580.6"/>
<path d="M246,1797.6 h-30"/>
<path d="M246,1391.9 h-30"/>
<path d="M246,986.3 h-30"/>
<path d="M246,580.6 h-30"/>
</g>
<text transform="translate(734.0,2302.3) scale(1,1.05)" font-size="50" text-anchor="middle">1980</text>
<text transform="translate(1334.7,2302.3) scale(1,1.05)" font-size="50" text-anchor="middle">1990</text>
<text transform="translate(1935.1,2302.3) scale(1,1.05)" font-size="50" text-anchor="middle">2000</text>
<text transform="translate(2535.7,2302.3) scale(1,1.05)" font-size="50" text-anchor="middle">2010</text>
<text transform="translate(3136.2,2302.3) scale(1,1.05)" font-size="50" text-anchor="middle">2020</text>
<text transform="translate(174,1797.6) rotate(-90) scale(1,1.05)" font-size="50" text-anchor="middle">20</text>
<text transform="translate(174,1391.9) rotate(-90) scale(1,1.05)" font-size="50" text-anchor="middle">21</text>
<text transform="translate(174,986.3) rotate(-90) scale(1,1.05)" font-size="50" text-anchor="middle">22</text>
<text transform="translate(174,580.6) rotate(-90) scale(1,1.05)" font-size="50" text-anchor="middle">23</text>
<text transform="translate(1935.8,2422.2) scale(1,1.05)" font-size="50" text-anchor="middle">Date</text>
<text transform="translate(54,1221) rotate(-90) scale(1,1.05)" font-size="50" text-anchor="middle">Average Average Temperature (°C)</text>
<text transform="translate(1936.6,108.9) scale(1.004,1.065)" font-size="60" font-weight="bold" text-anchor="middle">Annual-Average Average Temperature in</text>
<text transform="translate(1936,180.8) scale(1.004,1.065)" font-size="60" font-weight="bold" text-anchor="middle">La Rioja Aero., La Rioja, Argentina</text>
<rect x="246" y="246" width="784.6" height="119.8" fill="#fff" stroke="#000" stroke-width="3.125" stroke-linejoin="round"/>
<path d="M291.2,305.8 H381" stroke="#0000ff" stroke-width="3.125" stroke-linecap="round" fill="none"/>
<text transform="translate(426.8,324.2) scale(1,1.05)" font-size="50">12-Month Moving Average</text>
</svg></body></html>
